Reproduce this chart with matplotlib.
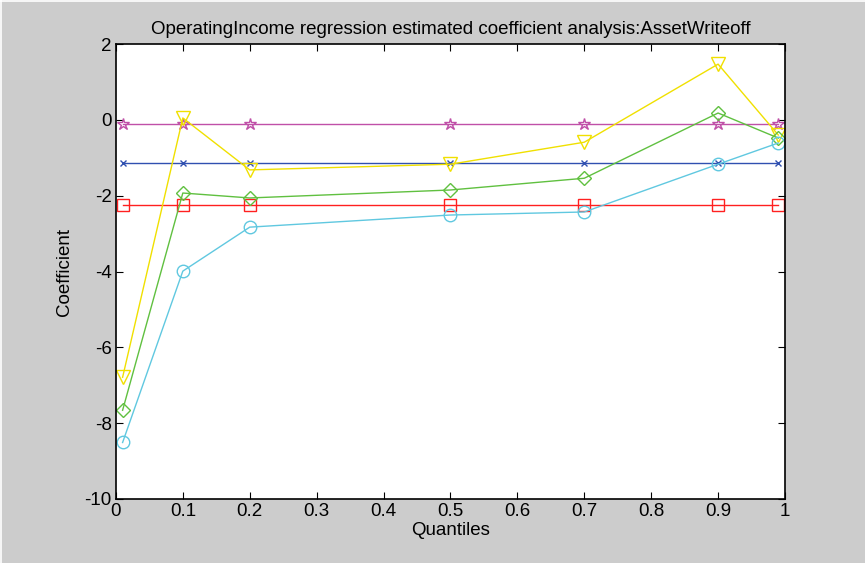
import matplotlib
matplotlib.use('Agg')
import matplotlib.pyplot as plt

plt.rcParams['font.family'] = ['Liberation Sans', 'DejaVu Sans']
plt.rcParams['axes.unicode_minus'] = False

quantiles = [0.01, 0.1, 0.2, 0.5, 0.7, 0.9, 0.99]

coef_ols_upper = [-0.1, -0.1, -0.1, -0.1, -0.1, -0.1, -0.1]
coef_ols = [-1.14, -1.14, -1.14, -1.14, -1.14, -1.14, -1.14]
coef_ols_lower = [-2.25, -2.25, -2.25, -2.25, -2.25, -2.25, -2.25]
coef_qr_upper = [-6.79, 0.05, -1.32, -1.17, -0.59, 1.47, -0.4]
coef_qr = [-7.66, -1.93, -2.06, -1.85, -1.54, 0.18, -0.48]
coef_qr_lower = [-8.51, -3.99, -2.83, -2.51, -2.43, -1.17, -0.61]

xticks = [0, 0.1, 0.2, 0.3, 0.4, 0.5, 0.6, 0.7, 0.8, 0.9, 1]
xticklabels = ['0', '0.1', '0.2', '0.3', '0.4', '0.5', '0.6', '0.7', '0.8', '0.9', '1']

fs = 13.5

fig = plt.figure(figsize=(8.65, 5.63), dpi=100, facecolor='#cccccc')
ax = fig.add_axes([0.134, 0.1137, 0.7735, 0.8081])

ax.plot(quantiles, coef_ols_upper, color='#c050a8', marker='*', markersize=9,
        markerfacecolor='none', linewidth=1)
ax.plot(quantiles, coef_ols, color='#3050b0', marker='x', markersize=5, linewidth=1)
ax.plot(quantiles, coef_ols_lower, color='#ff2020', marker='s', markersize=9,
        markerfacecolor='none', linewidth=1)
ax.plot(quantiles, coef_qr_upper, color='#f0e000', marker='v', markersize=10,
        markerfacecolor='none', linewidth=1)
ax.plot(quantiles, coef_qr, color='#60c040', marker='D', markersize=7,
        markerfacecolor='none', linewidth=1)
ax.plot(quantiles, coef_qr_lower, color='#60c8e0', marker='o', markersize=9,
        markerfacecolor='none', linewidth=1)

ax.set_xlim(0, 1)
ax.set_ylim(-10, 2)
ax.set_xticks(xticks)
ax.set_xticklabels(xticklabels)
ax.set_yticks(range(-10, 3, 2))
ax.tick_params(direction='in', top=True, right=True, labelsize=fs, length=5, pad=3)
for s in ax.spines.values():
    s.set_linewidth(1.2)

ax.set_xlabel('Quantiles', fontsize=fs, labelpad=1)
ax.set_ylabel('Coefficient', fontsize=fs, labelpad=8)
ax.set_title('OperatingIncome regression estimated coefficient analysis:AssetWriteoff',
             fontsize=fs, pad=7)

# thin white frame at left/top edge like the screenshot
fig.add_artist(plt.Line2D([0.0006, 0.0006], [0, 1], color='white', lw=1.2))
fig.add_artist(plt.Line2D([0, 1], [0.999, 0.999], color='white', lw=1.2))

plt.savefig('out.png', dpi=100, facecolor=fig.get_facecolor())
